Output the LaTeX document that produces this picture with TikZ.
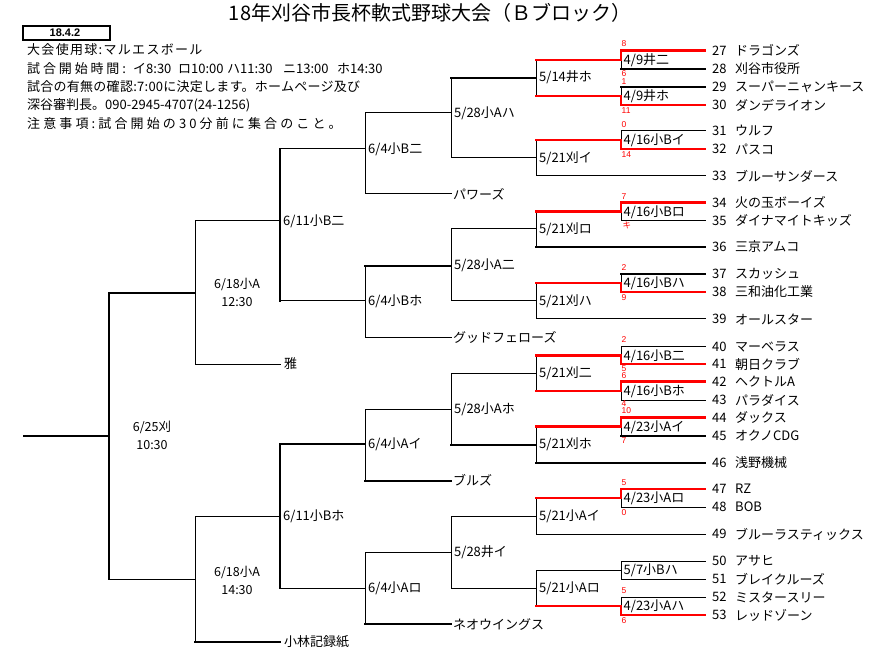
\documentclass[tikz,border=0pt]{standalone}
\usepackage{fontspec}
\setmainfont{Noto Sans CJK JP}
\newfontfamily\libsans{Liberation Sans}
\begin{document}
\begin{tikzpicture}[x=1pt,y=-1pt,
 ln/.style={line width=1pt,line cap=rect},
 lk/.style={line width=2pt,line cap=rect},
 lr/.style={line width=2.3pt,red,line cap=rect},
 tx/.style={anchor=west,inner sep=0pt,font=\fontsize{13}{14}\selectfont},
 ctx/.style={inner sep=0pt,font=\fontsize{12.5}{13}\selectfont},
 sc/.style={anchor=west,inner sep=0pt,text height=5.5pt,text depth=0pt,text=red,font=\libsans\fontsize{8.5}{9}\selectfont},
 info/.style={anchor=west,inner sep=0pt,font=\fontsize{13}{14}\selectfont}]
\useasboundingbox (0,0) rectangle (870,652);
% ---------- header ----------
\node[inner sep=0pt,font=\fontsize{20}{22}\selectfont] (title) at (430,13) {18年刈谷市長杯軟式野球大会（Ｂブロック）};
\draw[line width=2pt] (23,26) rectangle (110,40);
\node[inner sep=0pt,font=\libsans\bfseries\fontsize{11}{12}\selectfont] (date) at (65,33) {18.4.2};
\node[info] (i1) at (27,50) {\addfontfeature{LetterSpace=10}大会使用球:マルエスボール};
\node[info] (i2) at (27,69) {\addfontfeature{LetterSpace=22}試合開始時間:};
\node[info] (i2a) at (133,69) {イ8:30};
\node[info] (i2b) at (178,69) {ロ10:00};
\node[info] (i2c) at (227,69) {ハ11:30};
\node[info] (i2d) at (283,69) {ニ13:00};
\node[info] (i2e) at (337,69) {ホ14:30};
\node[info] (i3) at (27,87) {\addfontfeature{LetterSpace=2}試合の有無の確認:7:00に決定します。ホームページ及び};
\node[info] (i4) at (27,105.5) {深谷審判長。090-2945-4707(24-1256)};
\node[info] (i5) at (27,124) {\addfontfeature{LetterSpace=24}注意事項:試合開始の30分前に集合のこと。};
% ---------- team lines (black) ----------
\draw[lk] (621,69) -- (705,69);
\draw[lk] (621,87) -- (705,87);
\draw[ln] (621,131) -- (705,131);
\draw[ln] (536,176) -- (705,176);
\draw[ln] (621,220.5) -- (705,220.5);
\draw[lk] (536,247) -- (705,247);
\draw[lk] (621,274) -- (705,274);
\draw[ln] (536,319) -- (705,319);
\draw[ln] (621,346.5) -- (705,346.5);
\draw[ln] (621,400) -- (705,400);
\draw[lk] (621,435.5) -- (705,435.5);
\draw[lk] (536,462.7) -- (705,462.7);
\draw[ln] (621,507) -- (705,507);
\draw[ln] (536,534) -- (705,534);
\draw[ln] (621,561) -- (705,561);
\draw[ln] (621,579) -- (705,579);
\draw[ln] (621,597) -- (705,597);
% first-round verticals (black parts)
\draw[ln] (621,59.7) -- (621,69);
\draw[ln] (621,87) -- (621,96);
\draw[ln] (621,131) -- (621,140);
\draw[ln] (621,211.5) -- (621,220.5);
\draw[ln] (621,274) -- (621,283);
\draw[ln] (621,346.5) -- (621,355.5);
\draw[ln] (621,391) -- (621,400);
\draw[ln] (621,426.5) -- (621,435.5);
\draw[ln] (621,498) -- (621,507);
\draw[ln] (621,561) -- (621,579);
\draw[ln] (621,597) -- (621,606);
\draw[ln] (536,570) -- (621,570);
% second round verticals at 536
\draw[ln] (536,59.7) -- (536,96);
\draw[ln] (536,140) -- (536,176);
\draw[ln] (536,211.5) -- (536,247);
\draw[ln] (536,283) -- (536,319);
\draw[ln] (536,355.5) -- (536,391);
\draw[ln] (536,426.5) -- (536,462.7);
\draw[ln] (536,498) -- (536,534);
\draw[ln] (536,570) -- (536,606);
% connectors 451 -> 536
\draw[lk] (451,77.7) -- (536,77.7);
\draw[ln] (451,158) -- (536,158);
\draw[ln] (451,229) -- (536,229);
\draw[ln] (451,301) -- (536,301);
\draw[ln] (451,373) -- (536,373);
\draw[lk] (451,444.7) -- (536,444.7);
\draw[ln] (451,516) -- (536,516);
\draw[ln] (451,588) -- (536,588);
% third round verticals at 451
\draw[ln] (451,77.7) -- (451,158);
\draw[ln] (451,229) -- (451,301);
\draw[ln] (451,373) -- (451,444.7);
\draw[ln] (451,516) -- (451,588);
% connectors 365 -> 451
\draw[ln] (365,113) -- (451,113);
\draw[ln] (365,194) -- (451,194);
\draw[lk] (365,265.7) -- (451,265.7);
\draw[ln] (365,337) -- (451,337);
\draw[ln] (365,409) -- (451,409);
\draw[lk] (365,480.7) -- (451,480.7);
\draw[ln] (365,552) -- (451,552);
\draw[lk] (365,624) -- (451,624);
% fourth round verticals at 365
\draw[ln] (365,113) -- (365,194);
\draw[ln] (365,265.7) -- (365,337);
\draw[ln] (365,409) -- (365,480.7);
\draw[ln] (365,552) -- (365,624);
% connectors 280 -> 365
\draw[ln] (280,149) -- (365,149);
\draw[ln] (280,301) -- (365,301);
\draw[lk] (280,444) -- (365,444);
\draw[ln] (280,588) -- (365,588);
% fifth round verticals at 280
\draw[lk] (280,149) -- (280,301);
\draw[lk] (280,444) -- (280,588);
% connectors 195 -> 280
\draw[ln] (195,221) -- (280,221);
\draw[ln] (195,364) -- (280,364);
\draw[ln] (195,516.7) -- (280,516.7);
\draw[lk] (195,641.7) -- (280,641.7);
% sixth round verticals at 195
\draw[ln] (195,221) -- (195,364);
\draw[ln] (195,516.7) -- (195,641.7);
% connectors 109 -> 195
\draw[lk] (109,292.7) -- (195,292.7);
\draw[ln] (109,579) -- (195,579);
% final
\draw[lk] (109,292.7) -- (109,579);
\draw[lk] (24,435.7) -- (109,435.7);
% ---------- red winning paths ----------
\draw[lr] (621,50.5) -- (705,50.5);
\draw[lr] (621,105) -- (705,105);
\draw[lr] (621,149) -- (705,149);
\draw[lr] (621,202.5) -- (705,202.5);
\draw[lr] (621,292) -- (705,292);
\draw[lr] (621,364) -- (705,364);
\draw[lr] (621,381.5) -- (705,381.5);
\draw[lr] (621,417.5) -- (705,417.5);
\draw[lr] (621,489) -- (705,489);
\draw[lr] (621,615) -- (705,615);
\draw[lr] (536,59.7) -- (621,59.7) -- (621,50.5);
\draw[lr] (536,96) -- (621,96) -- (621,105);
\draw[lr] (536,140) -- (621,140) -- (621,149);
\draw[lr] (536,211.5) -- (621,211.5) -- (621,202.5);
\draw[lr] (536,283) -- (621,283) -- (621,292);
\draw[lr] (536,355.5) -- (621,355.5) -- (621,364);
\draw[lr] (536,391) -- (621,391) -- (621,381.5);
\draw[lr] (536,426.5) -- (621,426.5) -- (621,417.5);
\draw[lr] (536,498) -- (621,498) -- (621,489);
\draw[lr] (536,606) -- (621,606) -- (621,615);
% ---------- team labels ----------
\node[tx] (n27) at (712,50.5) {27}; \node[tx] (t27) at (735,50.5) {ドラゴンズ};
\node[tx] (n28) at (712,69) {28}; \node[tx] (t28) at (735,69) {刈谷市役所};
\node[tx] (n29) at (712,87) {29}; \node[tx] (t29) at (735,87) {スーパーニャンキース};
\node[tx] (n30) at (712,105) {30}; \node[tx] (t30) at (735,105) {ダンデライオン};
\node[tx] (n31) at (712,131) {31}; \node[tx] (t31) at (735,131) {ウルフ};
\node[tx] (n32) at (712,149) {32}; \node[tx] (t32) at (735,149) {パスコ};
\node[tx] (n33) at (712,176) {33}; \node[tx] (t33) at (735,176) {ブルーサンダース};
\node[tx] (n34) at (712,202.5) {34}; \node[tx] (t34) at (735,202.5) {火の玉ボーイズ};
\node[tx] (n35) at (712,220.5) {35}; \node[tx] (t35) at (735,220.5) {ダイナマイトキッズ};
\node[tx] (n36) at (712,247) {36}; \node[tx] (t36) at (735,247) {三京アムコ};
\node[tx] (n37) at (712,274) {37}; \node[tx] (t37) at (735,274) {スカッシュ};
\node[tx] (n38) at (712,292) {38}; \node[tx] (t38) at (735,292) {三和油化工業};
\node[tx] (n39) at (712,319) {39}; \node[tx] (t39) at (735,319) {オールスター};
\node[tx] (n40) at (712,346.5) {40}; \node[tx] (t40) at (735,346.5) {マーベラス};
\node[tx] (n41) at (712,364) {41}; \node[tx] (t41) at (735,364) {朝日クラブ};
\node[tx] (n42) at (712,381.5) {42}; \node[tx] (t42) at (735,381.5) {ヘクトルA};
\node[tx] (n43) at (712,400) {43}; \node[tx] (t43) at (735,400) {パラダイス};
\node[tx] (n44) at (712,417.5) {44}; \node[tx] (t44) at (735,417.5) {ダックス};
\node[tx] (n45) at (712,435.5) {45}; \node[tx] (t45) at (735,435.5) {オクノCDG};
\node[tx] (n46) at (712,462.7) {46}; \node[tx] (t46) at (735,462.7) {浅野機械};
\node[tx] (n47) at (712,489) {47}; \node[tx] (t47) at (735,489) {RZ};
\node[tx] (n48) at (712,507) {48}; \node[tx] (t48) at (735,507) {BOB};
\node[tx] (n49) at (712,534) {49}; \node[tx] (t49) at (735,534) {ブルーラスティックス};
\node[tx] (n50) at (712,561) {50}; \node[tx] (t50) at (735,561) {アサヒ};
\node[tx] (n51) at (712,579) {51}; \node[tx] (t51) at (735,579) {ブレイクルーズ};
\node[tx] (n52) at (712,597) {52}; \node[tx] (t52) at (735,597) {ミスタースリー};
\node[tx] (n53) at (712,615) {53}; \node[tx] (t53) at (735,615) {レッドゾーン};
% ---------- match labels ----------
\node[tx] (m1) at (623.5,60.2) {4/9井二};
\node[tx] (m2) at (623.5,96.5) {4/9井ホ};
\node[tx] (m3) at (623.5,140.5) {4/16小Bイ};
\node[tx] (m4) at (623.5,212) {4/16小Bロ};
\node[tx] (m5) at (623.5,283.5) {4/16小Bハ};
\node[tx] (m6) at (623.5,356) {4/16小B二};
\node[tx] (m7) at (623.5,391.5) {4/16小Bホ};
\node[tx] (m8) at (623.5,427) {4/23小Aイ};
\node[tx] (m9) at (623.5,498.5) {4/23小Aロ};
\node[tx] (m10) at (623.5,570.5) {5/7小Bハ};
\node[tx] (m11) at (623.5,606.5) {4/23小Aハ};
\node[tx] (r1) at (539,77.7) {5/14井ホ};
\node[tx] (r2) at (539,158) {5/21刈イ};
\node[tx] (r3) at (539,229) {5/21刈ロ};
\node[tx] (r4) at (539,301) {5/21刈ハ};
\node[tx] (r5) at (539,373) {5/21刈二};
\node[tx] (r6) at (539,444.7) {5/21刈ホ};
\node[tx] (r7) at (539,516) {5/21小Aイ};
\node[tx] (r8) at (539,588) {5/21小Aロ};
\node[tx] (q1) at (454,113) {5/28小Aハ};
\node[tx] (q2) at (454,265.7) {5/28小A二};
\node[tx] (q3) at (454,409) {5/28小Aホ};
\node[tx] (q4) at (454,552) {5/28井イ};
\node[tx] (b1) at (453,194) {パワーズ};
\node[tx] (b2) at (453,337) {グッドフェローズ};
\node[tx] (b3) at (453,480.7) {ブルズ};
\node[tx] (b4) at (453,624) {ネオウイングス};
\node[tx] (s1) at (368,149) {6/4小B二};
\node[tx] (s2) at (368,301) {6/4小Bホ};
\node[tx] (s3) at (368,444) {6/4小Aイ};
\node[tx] (s4) at (368,588) {6/4小Aロ};
\node[tx] (f1) at (283,221) {6/11小B二};
\node[tx] (f2) at (283,516.7) {6/11小Bホ};
\node[tx] (b5) at (284,364) {雅};
\node[tx] (b6) at (284,641.7) {小林記録紙};
\node[ctx] (e1) at (237,284) {6/18小A};
\node[ctx] (e1t) at (237,302) {12:30};
\node[ctx] (e2) at (237,572) {6/18小A};
\node[ctx] (e2t) at (237,590) {14:30};
\node[ctx] (g1) at (152,427) {6/25刈};
\node[ctx] (g1t) at (152,445) {10:30};
% ---------- scores ----------
\node[sc] (c1a) at (621.5,44) {8};    \node[sc] (c1b) at (621.5,73.5) {6};
\node[sc] (c2a) at (621.5,81.5) {1};  \node[sc] (c2b) at (621.5,110.5) {11};
\node[sc] (c3a) at (621.5,125) {0};   \node[sc] (c3b) at (621.5,155) {14};
\node[sc] (c4a) at (621.5,196.5) {7}; \node[sc] (c4b) at (622.5,226) {\fontspec{Noto Sans CJK JP}キ};
\node[sc] (c5a) at (621.5,268) {2};   \node[sc] (c5b) at (621.5,297.5) {9};
\node[sc] (c6a) at (621.5,340) {2};   \node[sc] (c6b) at (621.5,368.5) {5};
\node[sc] (c7a) at (621.5,376) {6};   \node[sc] (c7b) at (621.5,404) {4};
\node[sc] (c8a) at (621.5,411) {10};  \node[sc] (c8b) at (621.5,441) {7};
\node[sc] (c9a) at (621.5,483) {5};   \node[sc] (c9b) at (621.5,512.5) {0};
\node[sc] (c11a) at (621.5,591) {5};  \node[sc] (c11b) at (621.5,620.5) {6};
\end{tikzpicture}
\end{document}
